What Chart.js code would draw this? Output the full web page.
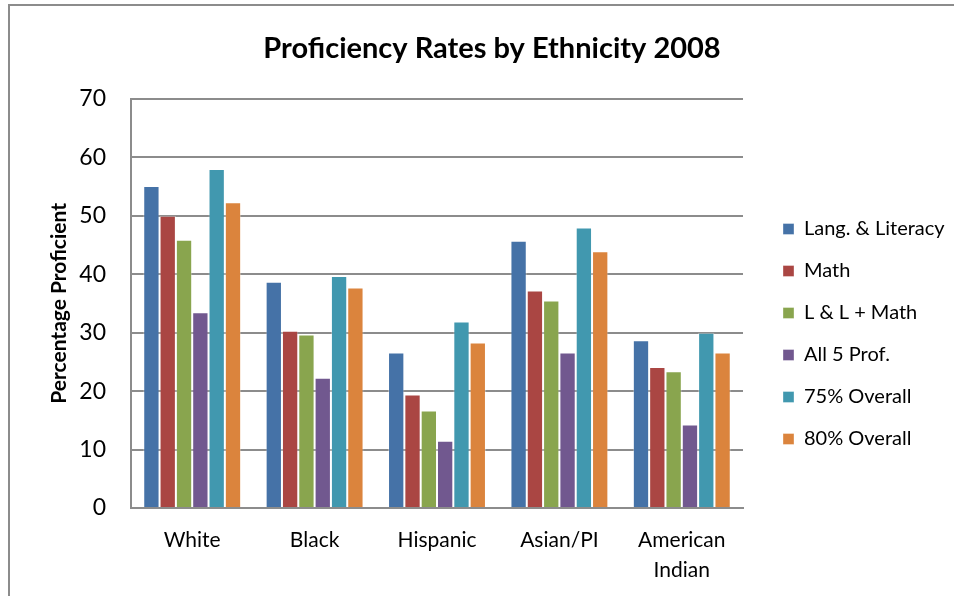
<!DOCTYPE html>
<html>
<head>
<meta charset="utf-8">
<script src="https://cdn.jsdelivr.net/npm/chart.js@4.4.1/dist/chart.umd.min.js"></script>
<style>
  html, body { margin: 0; padding: 0; background: #fff; }
  #wrap { width: 954px; height: 596px; }
</style>
</head>
<body>
<div id="wrap"><canvas id="profChart" width="954" height="596"></canvas></div>
<script>
const categories = ['White', 'Black', 'Hispanic', 'Asian/PI', ['American', 'Indian']];
const seriesNames = ['Lang. & Literacy', 'Math', 'L & L + Math', 'All 5 Prof.', '75% Overall', '80% Overall'];
const langLiteracy = [55.1, 38.7, 26.6, 45.7, 28.7];
const mathVals = [50.0, 30.3, 19.4, 37.2, 24.1];
const llMath = [45.9, 29.7, 16.7, 35.5, 23.4];
const allFive = [33.5, 22.3, 11.5, 26.6, 14.3];
const overall75 = [58.0, 39.7, 31.9, 48.0, 30.0];
const overall80 = [52.3, 37.7, 28.3, 43.9, 26.6];
const yTicks = [0, 10, 20, 30, 40, 50, 60, 70];

const colors = ['#4572A7', '#AA4643', '#89A54E', '#71588F', '#4198AF', '#DB843D'];
const allSeries = [langLiteracy, mathVals, llMath, allFive, overall75, overall80];

const FONT = 'Lato, "Open Sans", sans-serif';

// grey frame round the chart, like the spreadsheet chart border
const framePlugin = {
    id: 'frame',
    beforeDraw(chart) {
        const ctx = chart.ctx;
        ctx.save();
        ctx.strokeStyle = '#8c8c8c';
        ctx.lineWidth = 2;
        ctx.strokeRect(9, 5, 1000, 1000);
        ctx.restore();
    }
};

// fixed legend width, then put the legend where it sits in the original
const legendPlace = {
    id: 'legendPlace',
    beforeLayout(chart) {
        const lg = chart.legend;
        if (lg && !lg._fixed) {
            const orig = lg.fit.bind(lg);
            lg.fit = function() { orig(); this.width = 211; };
            lg._fixed = true;
        }
    },
    afterLayout(chart) {
        const lg = chart.legend;
        const dx = chart.chartArea.right + 18 - lg.left;
        lg.left += dx; lg.right += dx;
        const dy = 197 - lg.top;
        lg.top += dy; lg.bottom += dy;
    }
};

const ctx = document.getElementById('profChart').getContext('2d');
new Chart(ctx, {
    type: 'bar',
    data: {
        labels: categories,
        datasets: seriesNames.map((name, i) => ({
            label: name,
            data: allSeries[i],
            backgroundColor: colors[i],
            borderColor: 'rgba(255,255,255,0.35)',
            borderWidth: 1,
            categoryPercentage: 0.8,
            barPercentage: 1.0
        }))
    },
    options: {
        responsive: false,
        animation: false,
        layout: { padding: { left: 30, right: 0, top: 0, bottom: 0 } },
        plugins: {
            title: {
                display: true,
                text: 'Proficiency Rates by Ethnicity 2008',
                color: '#000',
                font: { family: FONT, size: 29, weight: 'bold' },
                padding: { top: 31, bottom: 33 }
            },
            legend: {
                position: 'right',
                align: 'start',
                labels: {
                    color: '#000',
                    font: { family: FONT, size: 20 },
                    boxWidth: 11,
                    boxHeight: 11,
                    padding: 22
                }
            },
            tooltip: { enabled: false }
        },
        scales: {
            x: {
                afterFit(scale) { scale.height = 88; },
                grid: { display: false, drawTicks: false },
                border: { color: '#8c8c8c', width: 2 },
                ticks: { color: '#000', font: { family: FONT, size: 21, lineHeight: 1.4 }, padding: 18, maxRotation: 0 }
            },
            y: {
                min: 0,
                max: 70,
                afterBuildTicks(axis) { axis.ticks = yTicks.map(v => ({ value: v })); },
                afterFit(scale) { scale.width = 101; },
                grid: { color: '#8c8c8c', lineWidth: 2, drawTicks: false },
                border: { color: '#8c8c8c', width: 2 },
                ticks: { color: '#000', font: { family: FONT, size: 23 }, padding: 25 },
                title: {
                    display: true,
                    text: 'Percentage Proficient',
                    color: '#000',
                    font: { family: FONT, size: 21, weight: 'bold' },
                    padding: { top: 17, bottom: 11 }
                }
            }
        }
    },
    plugins: [framePlugin, legendPlace]
});
</script>
</body>
</html>
